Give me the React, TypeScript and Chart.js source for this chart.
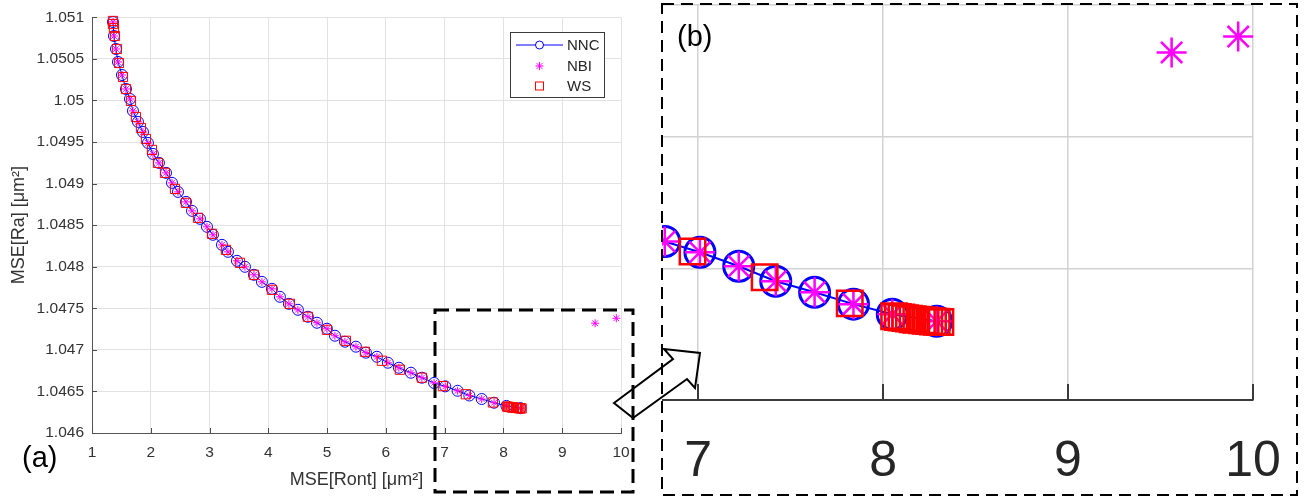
import React, { useEffect, useRef } from 'react';
import { Chart, registerables } from 'chart.js';
Chart.register(...registerables);

// ---------- data ----------
const nncX = [1.357, 1.374, 1.408, 1.442, 1.510, 1.578, 1.646, 1.697, 1.782, 1.867,
  1.952, 2.037, 2.139, 2.259, 2.361, 2.463, 2.599, 2.701, 2.837, 2.956,
  3.058, 3.211, 3.313, 3.466, 3.602, 3.755, 3.891, 4.061, 4.197, 4.350,
  4.503, 4.673, 4.827, 4.997, 5.133, 5.303, 5.490, 5.660, 5.847, 6.034,
  6.221, 6.425, 6.612, 6.820, 7.010, 7.220, 7.420, 7.630, 7.840, 8.050, 8.290];
const nncY = [1.050944, 1.050775, 1.050619, 1.050463, 1.050306, 1.050138, 1.050018, 1.049874, 1.049742, 1.049621,
  1.049489, 1.049357, 1.049249, 1.049129, 1.049009, 1.048900, 1.048780, 1.048672, 1.048576, 1.048480,
  1.048384, 1.048263, 1.048179, 1.048071, 1.047999, 1.047903, 1.047818, 1.047734, 1.047638, 1.047554,
  1.047482, 1.047398, 1.047326, 1.047254, 1.047170, 1.047098, 1.047038, 1.046966, 1.046917, 1.046845,
  1.046785, 1.046725, 1.046665, 1.046602, 1.046561, 1.046508, 1.046451, 1.046409, 1.046364, 1.046326, 1.046299];

const nbiX = [1.357, 1.374, 1.408, 1.442, 1.510, 1.578, 1.646, 1.697, 1.782, 1.867,
  1.952, 2.037, 2.139, 2.259, 2.361, 2.463, 2.599, 2.701, 2.837, 2.956,
  3.058, 3.211, 3.313, 3.466, 3.602, 3.755, 3.891, 4.061, 4.197, 4.350,
  4.503, 4.673, 4.827, 4.997, 5.133, 5.303, 5.490, 5.660, 5.847, 6.034,
  6.221, 6.425, 6.612, 6.820, 7.010, 7.220, 7.420, 7.630, 7.840, 8.050, 8.290,
  9.560, 9.920];
const nbiY = [1.050944, 1.050775, 1.050619, 1.050463, 1.050306, 1.050138, 1.050018, 1.049874, 1.049742, 1.049621,
  1.049489, 1.049357, 1.049249, 1.049129, 1.049009, 1.048900, 1.048780, 1.048672, 1.048576, 1.048480,
  1.048384, 1.048263, 1.048179, 1.048071, 1.047999, 1.047903, 1.047818, 1.047734, 1.047638, 1.047554,
  1.047482, 1.047398, 1.047326, 1.047254, 1.047170, 1.047098, 1.047038, 1.046966, 1.046917, 1.046845,
  1.046785, 1.046725, 1.046665, 1.046602, 1.046561, 1.046508, 1.046451, 1.046409, 1.046364, 1.046326, 1.046299,
  1.047320, 1.047380];

const wsX = [1.357, 1.357, 1.374, 1.391, 1.425, 1.459, 1.527, 1.578, 1.663, 1.748,
  1.833, 1.918, 2.020, 2.122, 2.241, 2.412, 2.599, 2.803, 3.041, 3.279,
  3.517, 3.755, 4.061, 4.367, 4.673, 4.997, 5.320, 5.643, 5.932, 6.238,
  6.612, 6.970, 7.360, 7.820,
  8.06, 8.08, 8.10, 8.12, 8.14, 8.16, 8.18, 8.21, 8.23, 8.25, 8.27, 8.29, 8.31];
const wsY = [1.050956, 1.050919, 1.050871, 1.050775, 1.050619, 1.050451, 1.050282, 1.050138, 1.049994, 1.049801,
  1.049669, 1.049537, 1.049405, 1.049249, 1.049129, 1.048936, 1.048768, 1.048588, 1.048396, 1.048203,
  1.048047, 1.047903, 1.047722, 1.047554, 1.047398, 1.047241, 1.047109, 1.046977, 1.046869, 1.046761,
  1.046665, 1.046564, 1.046466, 1.046367,
  1.046318, 1.046315, 1.046313, 1.046311, 1.046309, 1.046307, 1.046305, 1.046303, 1.046301, 1.046300, 1.046298, 1.046297, 1.046296];

const mainXTicks = [1, 2, 3, 4, 5, 6, 7, 8, 9, 10];
const mainXTickLabels = ['1', '2', '3', '4', '5', '6', '7', '8', '9', '10'];
const mainYTicks = [1.046, 1.0465, 1.047, 1.0475, 1.048, 1.0485, 1.049, 1.0495, 1.05, 1.0505, 1.051];
const mainYTickLabels = ['1.046', '1.0465', '1.047', '1.0475', '1.048', '1.0485', '1.049', '1.0495', '1.05', '1.0505', '1.051'];
const zoomXTicks = [7, 8, 9, 10];
const zoomXTickLabels = ['7', '8', '9', '10'];
const zoomYTicks = [1.046, 1.0465, 1.047, 1.0475];

const seriesNames = ['NNC', 'NBI', 'WS'];
const xTitle = 'MSE[Ront] [\u03BCm\u00B2]';
const yTitle = 'MSE[Ra] [\u03BCm\u00B2]';

const FONT = '"Liberation Sans", Arial, Helvetica, sans-serif';
const BLUE = '#0000ff';
const MAGENTA = '#ff00ff';
const RED = '#ff0000';

type Sizes = { circle: number; circleW: number; star: number; starW: number; rect: number; rectW: number; line: number };

function pts(xs: number[], ys: number[]) {
  return xs.map((x, i) => ({ x, y: ys[i] }));
}

function makeDatasets(s: Sizes): any[] {
  return [
    {
      label: seriesNames[2], data: pts(wsX, wsY), showLine: false, pointStyle: 'rect',
      pointRadius: s.rect, pointHoverRadius: s.rect, pointBorderWidth: s.rectW,
      pointBorderColor: RED, pointBackgroundColor: 'rgba(0,0,0,0)', borderColor: RED, order: 0, clip: false,
    },
    {
      label: seriesNames[1], data: pts(nbiX, nbiY), showLine: false, pointStyle: 'star',
      pointRadius: s.star, pointHoverRadius: s.star, pointBorderWidth: s.starW,
      pointBorderColor: MAGENTA, pointBackgroundColor: MAGENTA, borderColor: MAGENTA, order: 1, clip: false,
    },
    {
      label: seriesNames[0], data: pts(nncX, nncY), showLine: true, borderColor: BLUE, borderWidth: s.line,
      pointStyle: 'circle', pointRadius: s.circle, pointHoverRadius: s.circle, pointBorderWidth: s.circleW,
      pointBorderColor: BLUE, pointBackgroundColor: 'rgba(0,0,0,0)', order: 2, clip: false, tension: 0,
    },
  ];
}

const mainDecor = {
  id: 'mainDecor',
  afterDraw(chart: any) {
    const { ctx, chartArea, scales } = chart;
    ctx.save();
    ctx.strokeStyle = '#4d4d4d';
    ctx.lineWidth = 1;
    ctx.beginPath();
    mainXTicks.forEach((v) => {
      const px = Math.round(scales.x.getPixelForValue(v)) + 0.5;
      ctx.moveTo(px, chartArea.bottom);
      ctx.lineTo(px, chartArea.bottom - 5);
    });
    mainYTicks.forEach((v) => {
      const py = Math.round(scales.y.getPixelForValue(v)) + 0.5;
      ctx.moveTo(chartArea.left, py);
      ctx.lineTo(chartArea.left + 5, py);
    });
    ctx.stroke();

    // legend box
    const lx = 510, ly = 32, lw = 94, lh = 65;
    ctx.fillStyle = '#ffffff';
    ctx.fillRect(lx, ly, lw, lh);
    ctx.strokeStyle = '#3a3a3a';
    ctx.lineWidth = 1;
    ctx.strokeRect(lx + 0.5, ly + 0.5, lw, lh);
    const rows = [45, 66, 86];
    const mx = 539.5;
    // NNC
    ctx.strokeStyle = BLUE;
    ctx.lineWidth = 1;
    ctx.beginPath();
    ctx.moveTo(516, rows[0]);
    ctx.lineTo(563, rows[0]);
    ctx.stroke();
    ctx.fillStyle = '#ffffff';
    ctx.beginPath();
    ctx.arc(mx, rows[0], 4, 0, Math.PI * 2);
    ctx.fill();
    ctx.stroke();
    // NBI star
    ctx.strokeStyle = MAGENTA;
    ctx.beginPath();
    for (let k = 0; k < 4; k++) {
      const a = (k * Math.PI) / 4;
      ctx.moveTo(mx - 4 * Math.cos(a), rows[1] - 4 * Math.sin(a));
      ctx.lineTo(mx + 4 * Math.cos(a), rows[1] + 4 * Math.sin(a));
    }
    ctx.stroke();
    // WS square
    ctx.strokeStyle = RED;
    ctx.strokeRect(mx - 4, rows[2] - 4, 8, 8);
    ctx.fillStyle = '#262626';
    ctx.font = '15px ' + FONT;
    ctx.textBaseline = 'middle';
    ctx.textAlign = 'left';
    seriesNames.forEach((n, i) => ctx.fillText(n, 567, rows[i] + 1));
    ctx.restore();
  },
};

const zoomDecor = {
  id: 'zoomDecor',
  afterDraw(chart: any) {
    const { ctx, chartArea, scales } = chart;
    ctx.save();
    ctx.strokeStyle = '#3a3a3a';
    ctx.lineWidth = 2;
    ctx.beginPath();
    zoomXTicks.forEach((v) => {
      const px = Math.round(scales.x.getPixelForValue(v));
      ctx.moveTo(px, chartArea.bottom);
      ctx.lineTo(px, chartArea.bottom - 16);
    });
    ctx.stroke();
    ctx.restore();
  },
};

function MainChart() {
  const ref = useRef<HTMLCanvasElement>(null);
  useEffect(() => {
    if (!ref.current) return;
    const tickFont = { family: FONT, size: 15.5 };
    const titleFont = { family: FONT, size: 18 };
    const chart = new Chart(ref.current, {
      type: 'scatter',
      data: { datasets: makeDatasets({ circle: 5.5, circleW: 1, star: 4, starW: 1, rect: 6.5, rectW: 1, line: 1 }) },
      options: {
        animation: false,
        responsive: false,
        devicePixelRatio: 1,
        events: [],
        layout: { autoPadding: false, padding: { left: 0, right: 39, top: 17, bottom: 0 } },
        plugins: { legend: { display: false }, tooltip: { enabled: false } },
        scales: {
          x: {
            type: 'linear', min: 1, max: 10,
            afterBuildTicks: (s: any) => { s.ticks = mainXTicks.map((v) => ({ value: v })); },
            ticks: { font: tickFont, color: '#333333', padding: 10, maxRotation: 0, callback: (_v: any, i: number) => mainXTickLabels[i] },
            grid: { color: '#e2e2e2', drawTicks: false, lineWidth: 1 },
            border: { display: true, color: '#555555', width: 1 },
            title: { display: true, text: xTitle, font: titleFont, color: '#333333', padding: { top: 8, bottom: 8 } },
            afterFit: (s: any) => { s.height = 66; },
          },
          y: {
            type: 'linear', min: 1.046, max: 1.051,
            afterBuildTicks: (s: any) => { s.ticks = mainYTicks.map((v) => ({ value: v })); },
            ticks: { font: tickFont, color: '#333333', padding: 8, callback: (_v: any, i: number) => mainYTickLabels[i] },
            grid: { color: '#e2e2e2', drawTicks: false, lineWidth: 1 },
            border: { display: true, color: '#555555', width: 1 },
            title: { display: true, text: yTitle, font: titleFont, color: '#333333', padding: { top: 8, bottom: 8 } },
            afterFit: (s: any) => { s.width = 92; },
          },
        },
      } as any,
      plugins: [mainDecor],
    });
    return () => chart.destroy();
  }, []);
  return <canvas ref={ref} width={660} height={499} style={{ position: 'absolute', left: 0, top: 0, width: 660, height: 499 }} />;
}

function ZoomChart() {
  const ref = useRef<HTMLCanvasElement>(null);
  useEffect(() => {
    if (!ref.current) return;
    const chart = new Chart(ref.current, {
      type: 'scatter',
      data: { datasets: makeDatasets({ circle: 15, circleW: 3, star: 15, starW: 2.5, rect: 18, rectW: 2.5, line: 2 }) },
      options: {
        animation: false,
        responsive: false,
        devicePixelRatio: 1,
        events: [],
        layout: { autoPadding: false, padding: { left: 0, right: 44, top: 1, bottom: 0 } },
        plugins: { legend: { display: false }, tooltip: { enabled: false } },
        scales: {
          x: {
            type: 'linear', min: 6.805, max: 10,
            afterBuildTicks: (s: any) => { s.ticks = zoomXTicks.map((v) => ({ value: v })); },
            ticks: { font: { family: FONT, size: 50 }, color: '#262626', padding: 0, maxRotation: 0, callback: (_v: any, i: number) => zoomXTickLabels[i] },
            grid: { color: '#d2d2d2', drawTicks: true, tickLength: 32, tickColor: 'rgba(0,0,0,0)', lineWidth: 1.5 },
            border: { display: true, color: '#3a3a3a', width: 2 },
            afterFit: (s: any) => { s.height = 95; },
          },
          y: {
            type: 'linear', min: 1.046, max: 1.0475,
            afterBuildTicks: (s: any) => { s.ticks = zoomYTicks.map((v) => ({ value: v })); },
            ticks: { display: false },
            grid: { color: '#d2d2d2', drawTicks: false, lineWidth: 1.5 },
            border: { display: false },
            afterFit: (s: any) => { s.width = 0; },
          },
        },
      } as any,
      plugins: [zoomDecor],
    });
    return () => chart.destroy();
  }, []);
  return <canvas ref={ref} width={635} height={491} style={{ position: 'absolute', left: 662, top: 4, width: 635, height: 491 }} />;
}

export default function App() {
  return (
    <div style={{ position: 'absolute', left: 0, top: 0, width: 1308, height: 499, background: '#ffffff', overflow: 'hidden' }}>
      <MainChart />
      <ZoomChart />
      <svg width={1308} height={499} style={{ position: 'absolute', left: 0, top: 0, pointerEvents: 'none' }}>
        <rect x={435} y={310} width={198} height={182} fill="none" stroke="#000" strokeWidth={3} strokeDasharray="14 7" />
        <rect x={662} y={4} width={635} height={491} fill="none" stroke="#000" strokeWidth={2} strokeDasharray="12 7" />
        <polygon points="614,403 673,359 664,349 700,353 695,388 687,379 633,418" fill="none" stroke="#000" strokeWidth={2} strokeLinejoin="miter" />
        <text x={22} y={467} fontFamily={FONT} fontSize={29} fill="#000">(a)</text>
        <text x={677} y={46} fontFamily={FONT} fontSize={29} fill="#000">(b)</text>
      </svg>
    </div>
  );
}
